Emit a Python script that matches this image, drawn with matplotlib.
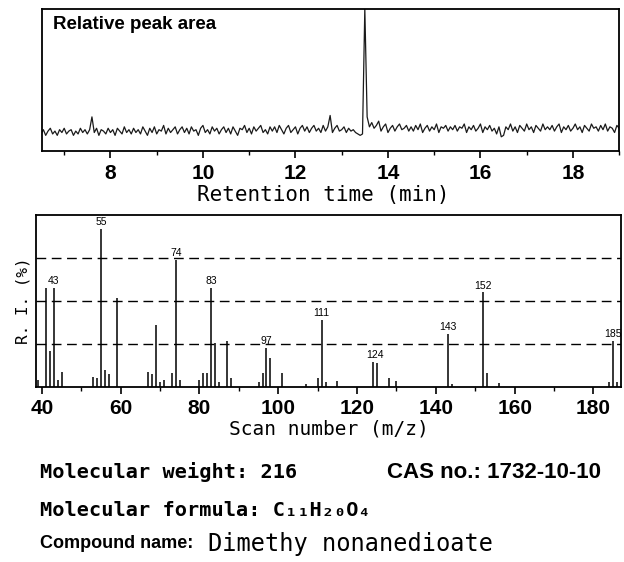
import matplotlib
matplotlib.use("Agg")
import matplotlib.pyplot as plt
import numpy as np
from matplotlib.ticker import MultipleLocator

sans = ['Liberation Sans', 'DejaVu Sans']
mono = ['DejaVu Sans Mono', 'DejaVu Sans']

# ---- chromatogram (relative peak area), one value every 0.05 min from 6.5 min
rt_start = 6.5
rt_step = 0.05
area = [
    12, 15, 11, 14, 16, 12, 14, 11, 15, 13, 16, 12, 14, 15, 11, 14, 12, 16, 13, 15,
    12, 15, 24, 13, 16, 11, 15, 14, 12, 16, 13, 15, 11, 16, 14, 12, 17, 13, 15, 12,
    16, 13, 15, 12, 17, 14, 11, 16, 13, 17, 12, 15, 14, 18, 12, 16, 13, 15, 17, 12,
    15, 17, 13, 16, 12, 17, 14, 15, 11, 16, 18, 13, 15, 12, 17, 14, 16, 12, 15, 17,
    13, 16, 12, 17, 14, 11, 16, 15, 18, 13, 16, 12, 17, 14, 16, 18, 13, 15, 12, 17,
    14, 17, 13, 18, 15, 12, 16, 18, 13, 15, 17, 12, 16, 18, 14, 17, 13, 16, 18, 14,
    16, 13, 18, 14, 17, 25, 13, 16, 18, 14, 15, 17, 13, 16, 14, 15, 13, 12, 11, 12,
    100, 24, 17, 20, 16, 18, 21, 14, 17, 19, 13, 16, 18, 14, 17, 19, 15, 16, 18, 14,
    17, 14, 18, 15, 19, 13, 16, 18, 14, 17, 15, 19, 13, 17, 16, 18, 14, 17, 15, 18,
    14, 17, 16, 19, 13, 17, 15, 18, 14, 16, 19, 13, 17, 15, 18, 14, 16, 12, 17, 10,
    11, 17, 15, 19, 14, 17, 13, 18, 16, 14, 19, 15, 17, 13, 18, 16, 14, 19, 15, 17,
    15, 18, 14, 17, 19, 13, 17, 15, 18, 14, 16, 19, 15, 17, 13, 18, 16, 14, 19, 16,
    17, 14, 18, 15, 19, 14, 17, 16, 13, 18, 16,
]
rt = rt_start + rt_step * np.arange(len(area))

# ---- mass spectrum
mz = [39, 41, 42, 43, 44, 45, 53, 54, 55, 56, 57, 59, 67, 68, 69, 70, 71, 73, 74, 75,
      80, 81, 82, 83, 84, 85, 87, 88, 95, 96, 97, 98, 101, 107, 110, 111, 112, 115,
      124, 125, 128, 130, 143, 144, 152, 153, 156, 184, 185, 186]
ri = [4, 57.5, 21, 57.5, 4, 8.5, 6, 5, 92, 10, 7.5, 52, 8.5, 7.5, 36, 3, 4, 8, 74, 4,
      4, 8, 8, 57.5, 25.5, 3, 27, 5, 3, 8, 22.7, 17, 8, 2, 5.5, 39, 3, 3.5,
      14.5, 14, 5, 3.5, 31, 2, 55, 8, 2.5, 3, 27, 3]
labelled = [43, 55, 74, 83, 97, 111, 124, 143, 152, 185]

fig = plt.figure(figsize=(6.24, 5.62), dpi=100)

# top panel
ax1 = fig.add_axes([0.0673, 0.7313, 0.925, 0.253])
ax1.plot(rt, area, color='#1a1a1a', linewidth=0.9)
ax1.set_xlim(6.52, 19.0)
ax1.set_ylim(0, 100)
ax1.set_yticks([])
ax1.xaxis.set_major_locator(MultipleLocator(2))
ax1.xaxis.set_minor_locator(MultipleLocator(1))
ax1.tick_params(axis='x', which='major', length=5, width=1.2, pad=4)
ax1.tick_params(axis='x', which='minor', length=3, width=1)
for lab in ax1.get_xticklabels():
    lab.set_family(sans)
    lab.set_fontsize(15)
    lab.set_fontweight('bold')
ax1.set_xlabel('Retention time (min)', family=mono, fontsize=15, labelpad=2)
ax1.xaxis.set_label_coords(0.487, -0.24)
ax1.text(0.019, 0.95, 'Relative peak area', transform=ax1.transAxes,
         family=sans, fontsize=13.5, fontweight='bold', va='top', ha='left')
for s in ax1.spines.values():
    s.set_linewidth(1.3)

# bottom panel
ax2 = fig.add_axes([0.0577, 0.3114, 0.9375, 0.306])
ax2.vlines(mz, 0, ri, color='black', linewidth=1.1)
for m, r in zip(mz, ri):
    if m in labelled:
        xt = m + 0.5 if m == 124 else m
        ax2.text(xt, r + 1, str(m), ha='center', va='bottom',
                 family=sans, fontsize=7.5)
for yy in [25, 50, 75]:
    ax2.axhline(yy, color='black', linewidth=1, linestyle=(0, (7, 4)))
ax2.set_xlim(38.5, 187)
ax2.set_ylim(0, 100)
ax2.set_yticks([])
ax2.xaxis.set_major_locator(MultipleLocator(20))
ax2.xaxis.set_minor_locator(MultipleLocator(10))
ax2.tick_params(axis='x', which='major', length=5, width=1.2, pad=4)
ax2.tick_params(axis='x', which='minor', length=3, width=1)
for lab in ax2.get_xticklabels():
    lab.set_family(sans)
    lab.set_fontsize(15)
    lab.set_fontweight('bold')
ax2.set_xlabel('Scan number (m/z)', family=mono, fontsize=14, labelpad=1)
ax2.set_ylabel('R. I. (%)', family=mono, fontsize=11.5, labelpad=4)
for s in ax2.spines.values():
    s.set_linewidth(1.3)

# compound info below
fig.text(40 / 624, 1 - 472 / 562, 'Molecular weight: 216', family=mono,
         fontsize=14.6, fontweight='bold', va='center')
fig.text(387 / 624, 1 - 472 / 562, 'CAS no.: 1732-10-10', family=sans,
         fontsize=16, fontweight='bold', va='center')
fig.text(40 / 624, 1 - 510 / 562, 'Molecular formula: C\u2081\u2081H\u2082\u2080O\u2084',
         family=mono, fontsize=14.6, fontweight='bold', va='center')
fig.text(40 / 624, 1 - 544 / 562, 'Compound name:', family=sans,
         fontsize=13, fontweight='bold', va='center')
fig.text(208 / 624, 1 - 544 / 562, 'Dimethy nonanedioate', family=mono,
         fontsize=17, va='center')

plt.savefig('out.png', dpi=100)
